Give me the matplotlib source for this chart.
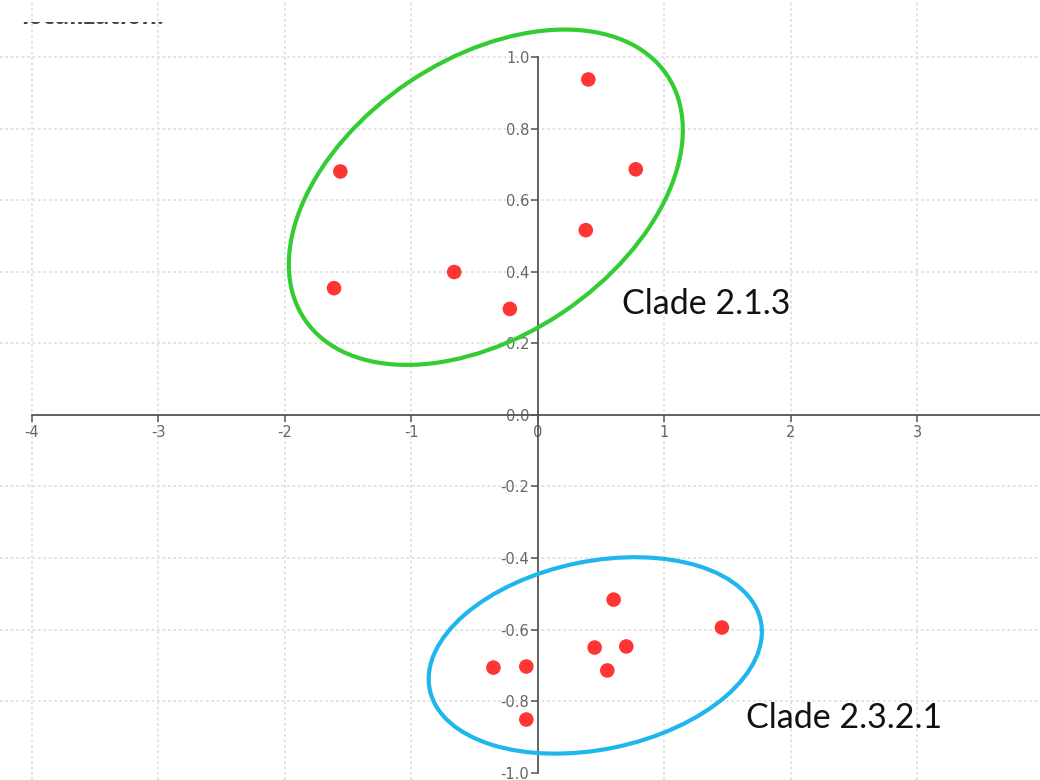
import numpy as np
import matplotlib
matplotlib.use('Agg')
from matplotlib import pyplot as plt
from matplotlib.patches import Ellipse
from matplotlib.transforms import ScaledTranslation, Bbox

# points
clade_213_x = [0.40, -1.56, 0.775, 0.38, -0.66, -1.61, -0.22]
clade_213_y = [0.937, 0.68, 0.686, 0.516, 0.399, 0.354, 0.296]
clade_2321_x = [0.60, 1.456, 0.45, 0.70, 0.55, -0.35, -0.09, -0.09]
clade_2321_y = [-0.516, -0.594, -0.65, -0.647, -0.714, -0.706, -0.703, -0.851]

x_ticks = [-4, -3, -2, -1, 0, 1, 2, 3]
y_ticks = [-1.0, -0.8, -0.6, -0.4, -0.2, 0.0, 0.2, 0.4, 0.6, 0.8, 1.0]
y_grid = [-0.8, -0.6, -0.4, -0.2, 0.2, 0.4, 0.6, 0.8, 1.0]
x_grid = [-4, -3, -2, -1, 1, 2, 3, 4]

fig = plt.figure(figsize=(10.4, 7.8), dpi=100)
ax = fig.add_axes([0, 0, 1, 1])
ax.set_xlim(-4.25, 3.97)
ax.set_ylim(-1.02, 1.159)

# dotted background grid
for gx in x_grid:
    ax.axvline(gx, color='#e0e0e0', lw=1.3, ls=(0, (1.5, 1.5)), zorder=0)
for gy in y_grid:
    ax.axhline(gy, color='#e0e0e0', lw=1.3, ls=(0, (1.5, 1.5)), zorder=0)

# axes through the origin
for s in ['top', 'right']:
    ax.spines[s].set_visible(False)
ax.spines['left'].set_position(('data', 0))
ax.spines['bottom'].set_position(('data', 0))
ax.spines['left'].set_bounds(-1.0, 1.0)
ax.spines['bottom'].set_bounds(-4, 4)
for s in ['left', 'bottom']:
    ax.spines[s].set_color('#555555')
    ax.spines[s].set_linewidth(1.3)

ax.set_xticks(x_ticks)
ax.set_xticklabels([str(t) for t in x_ticks])
ax.set_yticks(y_ticks)
ax.set_yticklabels(['%.1f' % t for t in y_ticks])
ax.tick_params(axis='both', colors='#555555', labelcolor='#666666', labelsize=10.5,
               length=5, width=1.1, direction='out')
ax.tick_params(axis='x', pad=2)
ax.tick_params(axis='y', pad=1)

ax.scatter(clade_213_x, clade_213_y, s=110, color='#ff3434', edgecolors='none', zorder=3)
ax.scatter(clade_2321_x, clade_2321_y, s=110, color='#ff3434', edgecolors='none', zorder=3)

# ellipses sized in inches, centred on data positions
def ring(cx, cy, w, h, ang, col):
    tr = fig.dpi_scale_trans + ScaledTranslation(cx, cy, ax.transData)
    e = Ellipse((0, 0), w, h, angle=ang, fill=False, edgecolor=col, lw=3.0,
                transform=tr, zorder=4)
    ax.add_patch(e)

ring(-0.41, 0.608, 4.37, 2.77, 34, '#33cc33')
ring(0.455, -0.672, 3.38, 1.88, 11.7, '#1fb6ee')

ax.text(0.665, 0.31, 'Clade 2.1.3', fontsize=24.5, family=['Lato', 'DejaVu Sans'],
        color='#111111', ha='left', va='center')
ax.text(1.65, -0.848, 'Clade 2.3.2.1', fontsize=24.5, family=['Lato', 'DejaVu Sans'],
        color='#111111', ha='left', va='center')

# cropped caption remains at the top of the screenshot
t = fig.text(0.02, 0.962, 'localization.', fontsize=17, fontweight='bold',
             color='#444444', family=['Open Sans', 'DejaVu Sans'], va='bottom')
t.set_clip_on(True)
t.set_clip_box(Bbox.from_extents(0, 0, 1040, 780 - 22))

plt.savefig('out.png', dpi=100)
